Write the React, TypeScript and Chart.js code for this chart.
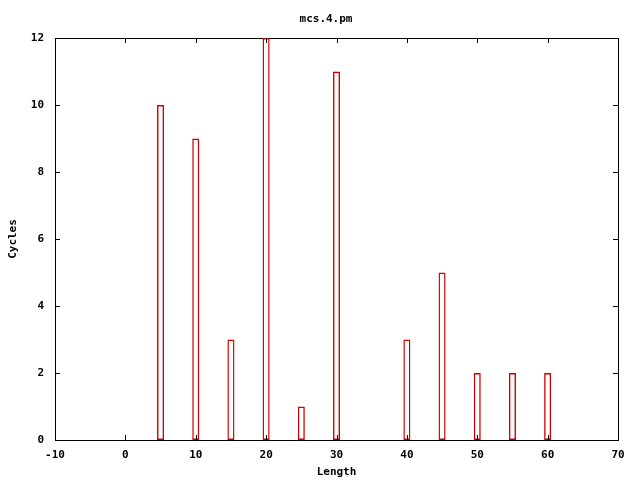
import React, { useEffect, useRef } from "react";
import { Chart, registerables } from "chart.js";

Chart.register(...registerables);

const chartTitle = "mcs.4.pm";
const xLabel = "Length";
const yLabel = "Cycles";
const lengths = [5, 10, 15, 20, 25, 30, 40, 45, 50, 55, 60];
const cycles = [10, 9, 3, 12, 1, 11, 3, 5, 2, 2, 2];
const xMin = -10;
const xMax = 70;
const xStep = 10;
const yMin = 0;
const yMax = 12;
const yStep = 2;

const FONT = { family: "'DejaVu Sans Mono', monospace", size: 11, weight: "bold" as const };

const innerTicks = {
  id: "innerTicks",
  afterDraw(chart: any) {
    const { ctx, chartArea: a, scales } = chart;
    const len = 5;
    ctx.save();
    ctx.strokeStyle = "#000";
    ctx.lineWidth = 1;
    ctx.beginPath();
    const xs = scales.x;
    xs.ticks.forEach((t: any) => {
      const px = Math.round(xs.getPixelForValue(t.value)) + 0.5;
      ctx.moveTo(px, a.bottom);
      ctx.lineTo(px, a.bottom - len);
      ctx.moveTo(px, a.top);
      ctx.lineTo(px, a.top + len);
    });
    const ys = scales.y;
    ys.ticks.forEach((t: any) => {
      const py = Math.round(ys.getPixelForValue(t.value)) + 0.5;
      ctx.moveTo(a.left, py);
      ctx.lineTo(a.left + len, py);
      ctx.moveTo(a.right, py);
      ctx.lineTo(a.right - len, py);
    });
    ctx.stroke();
    ctx.restore();
  },
};

export default function App() {
  const ref = useRef<HTMLCanvasElement>(null);
  useEffect(() => {
    if (!ref.current) return;
    const chart = new Chart(ref.current, {
      type: "bar",
      data: {
        datasets: [
          {
            data: lengths.map((x, i) => ({ x, y: cycles[i] })),
            backgroundColor: "rgba(0,0,0,0)",
            borderColor: "#d00000",
            borderWidth: 1.4,
            borderSkipped: false,
            categoryPercentage: 1,
            barPercentage: 0.2,
          },
        ],
      },
      plugins: [innerTicks],
      options: {
        responsive: false,
        animation: false,
        layout: { padding: { left: 12, right: 0, top: 0, bottom: 0 } },
        plugins: {
          legend: { display: false },
          tooltip: { enabled: false },
          title: {
            display: true,
            text: chartTitle,
            color: "#000",
            font: FONT,
            padding: { top: 13, bottom: 0 },
          },
        },
        scales: {
          x: {
            type: "linear",
            position: "bottom",
            min: xMin,
            max: xMax,
            offset: false,
            ticks: { stepSize: xStep, color: "#000", font: FONT, padding: 9, maxRotation: 0 },
            grid: { display: false, drawTicks: false },
            border: { display: true, color: "#000", width: 1 },
            title: { display: true, text: xLabel, color: "#000", font: FONT, padding: { top: 0, bottom: 1 } },
            afterFit: (s: any) => { s.height = 40; },
          },
          x2: {
            type: "linear",
            position: "top",
            min: xMin,
            max: xMax,
            ticks: { display: false },
            grid: { display: false, drawTicks: false },
            border: { display: true, color: "#000", width: 1 },
            afterFit: (s: any) => { s.height = 11.8; },
          },
          y: {
            type: "linear",
            position: "left",
            min: yMin,
            max: yMax,
            ticks: { stepSize: yStep, color: "#000", font: FONT, padding: 11 },
            grid: { display: false, drawTicks: false },
            border: { display: true, color: "#000", width: 1 },
            title: { display: true, text: yLabel, color: "#000", font: FONT, padding: { top: -5.5, bottom: 0 } },
            afterFit: (s: any) => { s.width = 43; },
          },
          y2: {
            type: "linear",
            position: "right",
            min: yMin,
            max: yMax,
            ticks: { display: false },
            grid: { display: false, drawTicks: false },
            border: { display: true, color: "#000", width: 1 },
            afterFit: (s: any) => { s.width = 22; },
          },
        },
      },
    });
    return () => chart.destroy();
  }, []);
  return (
    <canvas
      ref={ref}
      width={640}
      height={480}
      style={{ position: "absolute", left: 0, top: 0, width: 640, height: 480, background: "#fff" }}
    />
  );
}
